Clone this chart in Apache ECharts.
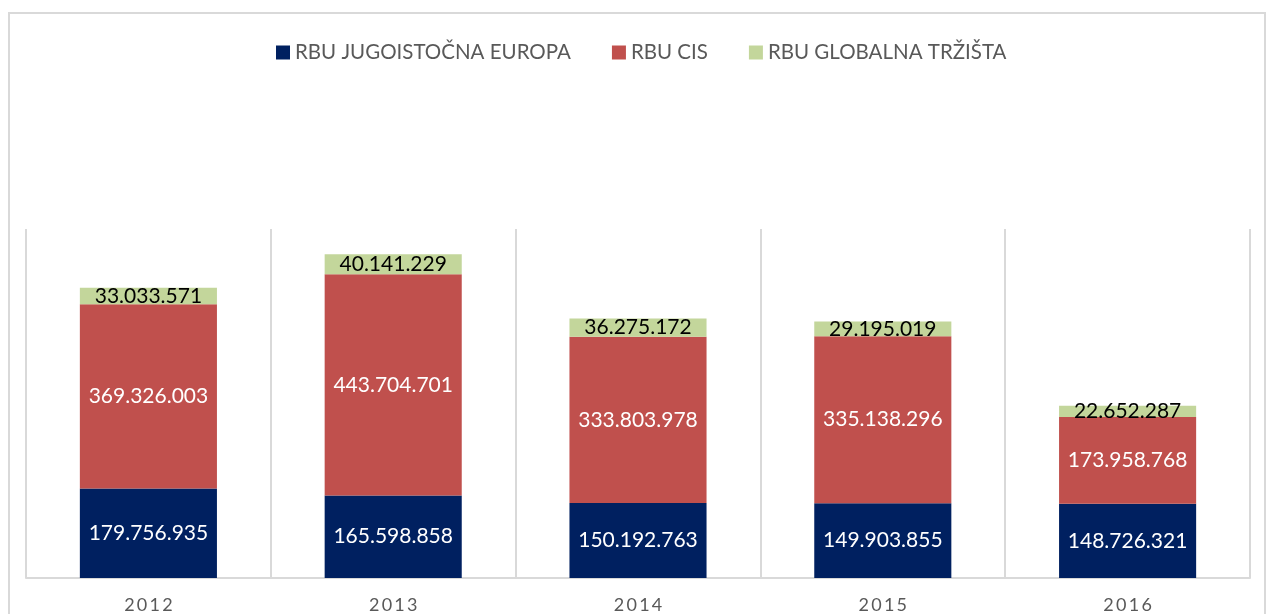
<!DOCTYPE html>
<html>
<head>
<meta charset="utf-8">
<script src="https://cdn.jsdelivr.net/npm/echarts@6/dist/echarts.min.js"></script>
<style>
  html, body { margin: 0; padding: 0; background: #fff; }
  #chart { width: 1268px; height: 614px; }
</style>
</head>
<body>
<div id="chart"></div>
<script>
const years = ['2012', '2013', '2014', '2015', '2016'];
const seriesNames = ['RBU JUGOISTOČNA EUROPA', 'RBU CIS', 'RBU GLOBALNA TRŽIŠTA'];
const jugoistocna = [179756935, 165598858, 150192763, 149903855, 148726321];
const cis = [369326003, 443704701, 333803978, 335138296, 173958768];
const globalna = [33033571, 40141229, 36275172, 29195019, 22652287];

const colors = ['#002060', '#C0504D', '#C3D69B'];
const labelColors = ['#ffffff', '#ffffff', '#000000'];
const fontFam = 'Lato, "Open Sans", sans-serif';

const fmt = v => String(v).replace(/\B(?=(\d{3})+(?!\d))/g, '.');

const chart = echarts.init(document.getElementById('chart'));

const series = [jugoistocna, cis, globalna].map((data, i) => ({
  name: seriesNames[i],
  type: 'bar',
  stack: 'total',
  barWidth: '56%',
  data: data,
  itemStyle: { color: colors[i] },
  label: {
    show: true,
    position: 'inside',
    color: labelColors[i],
    fontFamily: fontFam,
    fontSize: 21,
    formatter: p => fmt(p.value)
  }
}));

chart.setOption({
  animation: false,
  graphic: [{
    type: 'rect',
    shape: { x: 9, y: 13, width: 1256, height: 640 },
    style: { fill: 'none', stroke: '#d9d9d9', lineWidth: 2 }
  }],
  legend: {
    top: 37,
    left: 271,
    icon: 'rect',
    itemWidth: 14,
    itemHeight: 14,
    itemGap: 41,
    textStyle: { fontFamily: fontFam, fontSize: 20.5, color: '#595959' },
    data: seriesNames
  },
  grid: { left: 26, right: 18, top: 229, bottom: 35 },
  xAxis: {
    type: 'category',
    data: years,
    axisTick: { show: false },
    axisLine: { lineStyle: { color: '#d9d9d9', width: 2 } },
    splitLine: { show: true, lineStyle: { color: '#d9d9d9', width: 2 } },
    axisLabel: {
      margin: 18,
      color: '#595959',
      fontFamily: fontFam,
      fontSize: 18,
      formatter: v => v.split('').join('\u2009')
    }
  },
  yAxis: {
    type: 'value',
    min: 0,
    max: 700000000,
    show: false,
    splitLine: { show: false }
  },
  series: series
});
</script>
</body>
</html>
